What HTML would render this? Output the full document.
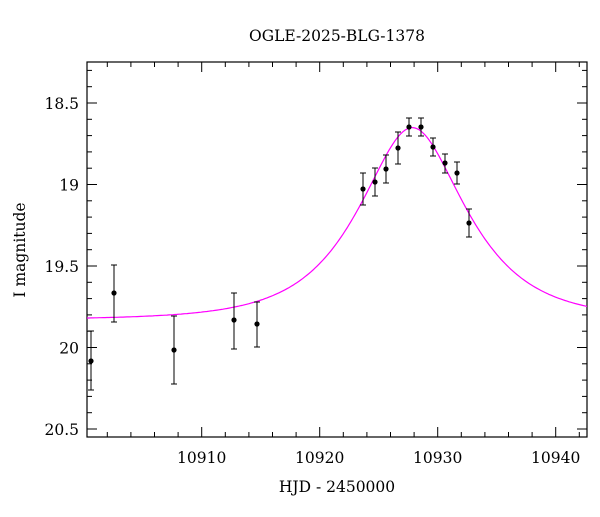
<!DOCTYPE html>
<html><head><meta charset="utf-8"><style>
body{margin:0;background:#fff}
svg text{font-family:"DejaVu Serif","Liberation Serif",serif;fill:#000}
</style></head><body>
<svg id="s" width="600" height="512" xmlns="http://www.w3.org/2000/svg">
<rect x="87" y="62" width="500" height="375" fill="none" stroke="#000" stroke-width="1.2"/>
<text x="337" y="41" font-size="15.5" text-anchor="middle">OGLE-2025-BLG-1378</text>
<text x="337" y="492" font-size="15.5" text-anchor="middle">HJD - 2450000</text>
<text transform="translate(25,250) rotate(-90)" font-size="15.5" text-anchor="middle">I magnitude</text>
<g id="t" stroke="#000" stroke-width="1"></g>
</svg>
<script>
var NS="http://www.w3.org/2000/svg",s=document.getElementById('s'),t=document.getElementById('t');
function el(n,a,p){var e=document.createElementNS(NS,n);for(var k in a)e.setAttribute(k,a[k]);(p||s).appendChild(e);return e}
function X(d){return 201.7+(d-10910)*11.8}
function Y(m){return 103+(m-18.5)*163}
for(var d=10902;d<=10942;d+=2){var x=X(d),L=(d%10==0)?10:5;
el('line',{x1:x,x2:x,y1:437,y2:437-L},t);el('line',{x1:x,x2:x,y1:62,y2:62+L},t);
if(d%10==0){var q=el('text',{x:x,y:463,'font-size':15.5,'text-anchor':'middle'});q.textContent=d;}}
for(var i=3;i<=25;i++){var m=18+i*0.1,y=Y(m),L=(i%5==0)?10:5;
el('line',{x1:87,x2:87+L,y1:y,y2:y},t);el('line',{x1:587,x2:587-L,y1:y,y2:y},t);
if(i%5==0){var q=el('text',{x:79,y:y+6,'font-size':15.5,'text-anchor':'end'});q.textContent=(Math.round(m*10)/10).toString();}}
var p=[],t0=10927.85,tE=6.4,u0=0.6,base=19.83,fs=2.22;
for(var x=87;x<=587;x+=2){var d=10910+(x-201.7)/11.8,tau=(d-t0)/tE,u=Math.sqrt(tau*tau+u0*u0),A=(u*u+2)/(u*Math.sqrt(u*u+4));
p.push(x+','+Y(base-2.5*Math.log10(1+fs*(A-1))).toFixed(1));}
el('polyline',{points:p.join(' '),fill:'none',stroke:'#f0f','stroke-width':1.2});
var D=[[91,361,331,390],[114,293,265,322],[174,350,316,384],[234,320,293,349],[257,324,302,347],[363,189,173,205],[375,182,168,196],[386,169,155,183],[398,148,132,164],[409,127,118,136],[421,127,118,136],[433,147,138,156],[445,163,154,173],[457,173,162,184],[469,223,209,237]];
D.forEach(function(a){el('line',{x1:a[0],x2:a[0],y1:a[2],y2:a[3],stroke:'#000'});
el('line',{x1:a[0]-3,x2:a[0]+3,y1:a[2],y2:a[2],stroke:'#000'});el('line',{x1:a[0]-3,x2:a[0]+3,y1:a[3],y2:a[3],stroke:'#000'});
el('circle',{cx:a[0],cy:a[1],r:2.6,fill:'#000'});});
</script>
</body></html>
